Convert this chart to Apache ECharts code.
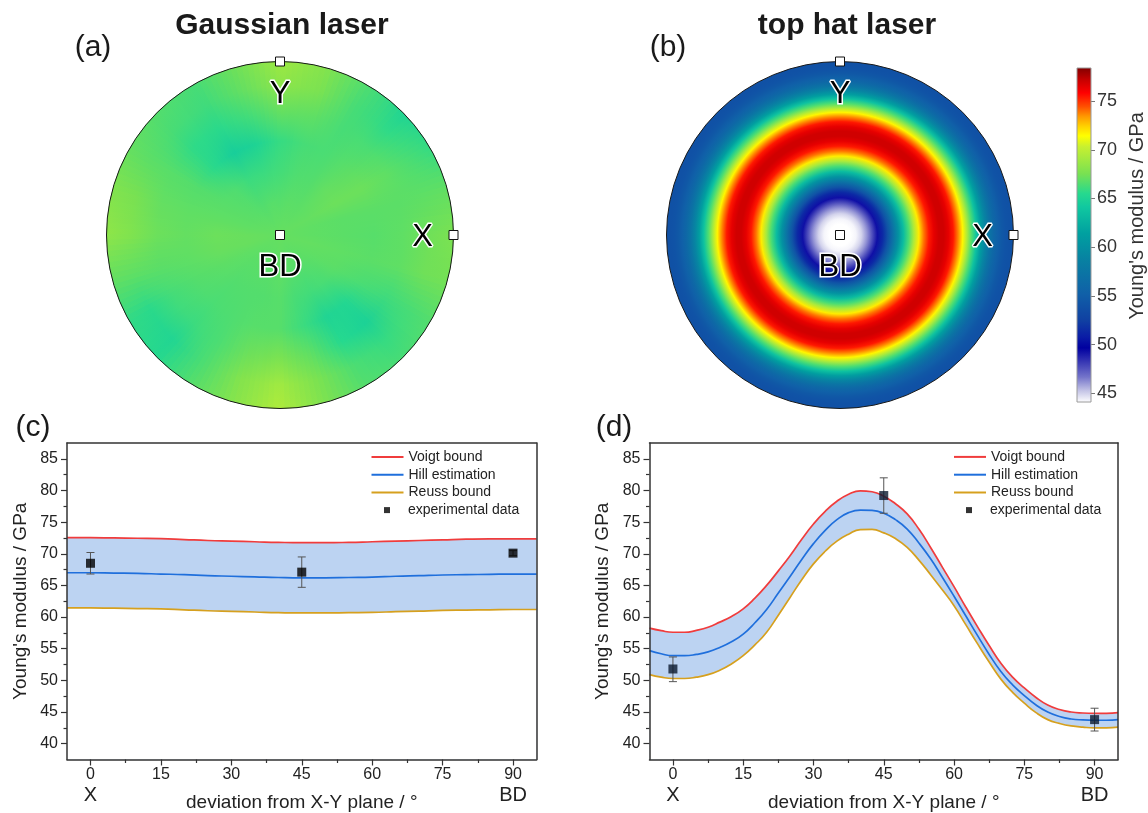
<!DOCTYPE html>
<html>
<head>
<meta charset="utf-8">
<script src="https://cdn.jsdelivr.net/npm/echarts@6/dist/echarts.min.js"></script>
<style>
  html, body { margin: 0; padding: 0; background: #fff; }
  #chart { width: 1148px; height: 813px; }
</style>
</head>
<body>
<div id="chart"></div>
<script>
const FONT = '"Liberation Sans", Arial, Helvetica, sans-serif';

// ---------- (c)/(d): Young's modulus against deviation from the X-Y plane ----------
// Gaussian laser (sampled every 5°)
const gaussDeviation = [-5, 0, 5, 10, 15, 20, 25, 30, 35, 40, 45, 50, 55, 60, 65, 70, 75, 80, 85, 90, 95];
const gaussVoigt = [72.55, 72.55, 72.5, 72.45, 72.4, 72.25, 72.1, 72.0, 71.9, 71.8, 71.75, 71.75, 71.8, 71.9, 72.0, 72.1, 72.2, 72.3, 72.35, 72.35, 72.35];
const gaussHill  = [67.0, 67.0, 66.95, 66.9, 66.8, 66.7, 66.55, 66.45, 66.35, 66.25, 66.2, 66.2, 66.25, 66.3, 66.45, 66.55, 66.65, 66.7, 66.75, 66.8, 66.8];
const gaussReuss = [61.45, 61.45, 61.4, 61.35, 61.3, 61.15, 61.0, 60.9, 60.8, 60.7, 60.65, 60.65, 60.7, 60.75, 60.85, 60.95, 61.05, 61.1, 61.15, 61.2, 61.2];

// top hat laser (sampled every 2.5°)
const topDeviation = [-5, -2.5, 0, 2.5, 5, 7.5, 10, 12.5, 15, 17.5, 20, 22.5, 25, 27.5, 30, 32.5, 35, 37.5, 40, 42.5, 45, 47.5, 50, 52.5, 55, 57.5, 60, 62.5, 65, 67.5, 70, 72.5, 75, 77.5, 80, 82.5, 85, 87.5, 90, 92.5, 95];
const topVoigt = [58.25, 57.85, 57.6, 57.6, 57.9, 58.4, 59.2, 60.1, 61.3, 63.0, 65.0, 67.3, 69.7, 72.3, 74.7, 76.7, 78.3, 79.4, 79.95, 79.8, 79.1, 77.9, 76.3, 73.9, 71.0, 67.9, 64.8, 61.6, 58.5, 55.5, 52.7, 50.5, 48.8, 47.3, 46.1, 45.4, 45.0, 44.85, 44.8, 44.8, 44.9];
const topHill  = [54.7, 54.2, 53.9, 53.9, 54.1, 54.5, 55.2, 56.1, 57.3, 59.1, 61.2, 63.8, 66.4, 69.1, 71.6, 73.7, 75.4, 76.5, 76.9, 76.85, 76.4, 75.4, 73.9, 71.7, 69.2, 66.3, 63.3, 60.2, 57.1, 54.1, 51.4, 49.3, 47.6, 46.1, 45.0, 44.3, 43.9, 43.75, 43.7, 43.7, 43.8];
const topReuss = [50.9, 50.5, 50.3, 50.3, 50.5, 50.9, 51.6, 52.6, 53.9, 55.6, 57.6, 60.3, 63.1, 65.9, 68.4, 70.4, 72.0, 73.1, 73.8, 73.85, 73.3, 72.4, 71.0, 69.0, 66.7, 64.3, 61.8, 58.8, 55.8, 52.9, 50.2, 48.1, 46.4, 44.9, 43.8, 43.2, 42.8, 42.6, 42.5, 42.5, 42.6];

// measured moduli with their error ranges
const expDeviation = [0, 45, 90];
const gaussExp     = [68.5, 67.1, 70.1];
const gaussExpLow  = [66.8, 64.7, 69.7];
const gaussExpHigh = [70.2, 69.5, 70.5];
const topExp       = [51.8, 79.2, 43.8];
const topExpLow    = [49.8, 76.4, 42.0];
const topExpHigh   = [53.7, 82.0, 45.6];

// axis ticks
const xTicks = [0, 15, 30, 45, 60, 75, 90];
const xMinorTicks = [7.5, 22.5, 37.5, 52.5, 67.5, 82.5];
const xEndNames = { 0: 'X', 90: 'BD' };
const yTicks = [40, 45, 50, 55, 60, 65, 70, 75, 80, 85];
const yMinorTicks = [42.5, 47.5, 52.5, 57.5, 62.5, 67.5, 72.5, 77.5, 82.5];
const colorbarTicks = [45, 50, 55, 60, 65, 70, 75];

// ---------- (a)/(b): Young's modulus pole figures (deviation from X-Y plane, azimuth from X) ----------
const gaussDev = [90, 75, 60, 45, 30, 15, 0];
const gaussAzimuth = [0, 15, 30, 45, 60, 75, 90, 105, 120, 135, 150, 165, 180, 195, 210, 225, 240, 255, 270, 285, 300, 315, 330, 345];
const gaussMap = [
  [67.0, 66.9, 66.8, 66.7, 66.9, 67.3, 67.6],
  [67.0, 66.9, 66.8, 66.8, 66.8, 66.9, 67.0],
  [67.0, 67.0, 67.2, 67.2, 66.9, 66.4, 65.9],
  [67.0, 66.9, 67.0, 66.8, 66.4, 65.7, 65.1],
  [67.0, 66.8, 66.6, 66.4, 66.3, 66.3, 66.5],
  [67.0, 66.8, 66.5, 66.3, 66.9, 67.6, 67.9],
  [67.0, 66.7, 66.2, 65.9, 67.0, 68.2, 68.8],
  [67.0, 66.7, 66.0, 65.0, 66.2, 67.0, 67.3],
  [67.0, 66.6, 66.0, 64.6, 65.6, 66.1, 66.3],
  [67.0, 66.7, 66.5, 65.6, 65.7, 66.3, 66.6],
  [67.0, 66.8, 66.7, 66.6, 66.7, 66.8, 67.0],
  [67.0, 66.9, 66.9, 66.9, 67.0, 67.5, 67.8],
  [67.0, 67.1, 67.2, 67.0, 67.2, 67.8, 68.3],
  [67.0, 67.1, 67.1, 66.9, 66.8, 66.9, 67.0],
  [67.0, 66.9, 66.8, 66.6, 66.2, 65.6, 65.8],
  [67.0, 66.8, 66.6, 66.4, 66.0, 65.2, 65.4],
  [67.0, 66.8, 66.6, 66.5, 66.4, 66.5, 66.7],
  [67.0, 66.8, 66.6, 66.7, 67.2, 67.9, 68.0],
  [67.0, 66.9, 66.7, 66.7, 67.6, 68.9, 69.4],
  [67.0, 66.8, 66.3, 66.0, 66.9, 67.6, 67.7],
  [67.0, 66.7, 66.2, 65.1, 65.5, 66.4, 66.6],
  [67.0, 66.8, 66.4, 65.3, 64.8, 65.9, 66.3],
  [67.0, 66.9, 66.8, 66.4, 66.1, 66.3, 66.6],
  [67.0, 67.0, 66.9, 66.8, 66.9, 67.3, 67.4]
];
const topDev = [90, 87.5, 85, 82.5, 80, 77.5, 75, 72.5, 70, 67.5, 65, 62.5, 60, 57.5, 55, 52.5, 50, 47.5, 45, 42.5, 40, 37.5, 35, 32.5, 30, 27.5, 25, 22.5, 20, 17.5, 15, 12.5, 10, 7.5, 5, 2.5, 0];
const topRadial = [43.7, 43.7, 43.9, 44.3, 45.0, 46.1, 47.6, 49.3, 51.4, 54.1, 57.1, 60.2, 63.3, 66.3, 69.2, 71.8, 73.9, 75.4, 76.4, 76.9, 76.9, 76.4, 75.4, 73.7, 71.6, 69.1, 66.4, 63.7, 61.2, 59.0, 57.3, 56.1, 55.2, 54.5, 54.1, 53.95, 53.9];

// reference directions marked on the pole figures: [radius, azimuth]
const poleMarkNames = ['X', 'Y', 'BD'];
const poleMarkRadius = [1, 1, 0];
const poleMarkAzimuth = [0, 90, 0];

// colour scale (GPa)
const cmapValues = [44.1, 45.3, 46.7, 48.4, 49.7, 50.8, 52.5, 55.2, 58.6, 61.4, 64.1, 65.5, 67.5, 70.3, 71.4, 72.4, 73.4, 74.4, 75.8, 77.1, 78.4];
const cmapColors = ['#ffffff', '#c4c4e6', '#7474ca', '#3232b2', '#0000a0', '#0a1ca6', '#1040a2', '#1060a8', '#0880a2', '#00a0a0', '#10c8a0', '#26d98e', '#78e152', '#c8f030', '#ffff00', '#ffd000', '#ff9800', '#ff5000', '#ff0000', '#c80000', '#800000'];

// ---------- styling ----------
const INK = '#222';
const FRAME = '#333';
const colVoigt = '#f03c3c';
const colHill = '#1f6fdc';
const colReuss = '#d6a01e';
const colBand = '#bcd3f2';
const markLabelOffset = { X: [-31, 2], Y: [0, 33], BD: [0, 32] };

const cmin = cmapValues[0], cmax = cmapValues[cmapValues.length - 1];
function colourOf(v) {
  if (v <= cmin) return cmapColors[0];
  if (v >= cmax) return cmapColors[cmapColors.length - 1];
  let i = 0;
  while (cmapValues[i + 1] < v) i++;
  const t = (v - cmapValues[i]) / (cmapValues[i + 1] - cmapValues[i]);
  return echarts.color.lerp(t, [cmapColors[i], cmapColors[i + 1]]);
}
// equal-area (Schmidt) projection of the deviation angle onto the unit disc
const schmidt = dev => Math.sin((90 - dev) * Math.PI / 360) / Math.SQRT1_2;

const pairs = (xs, ys) => xs.map((x, i) => [x, ys[i]]);

// ---------- axes (per plot: bottom, bottom minor ticks, top frame / left, left minor ticks, right frame) ----------
function xAxes(gridIndex) {
  const frame = { lineStyle: { color: FRAME, width: 1.5 }, onZero: false };
  return [
    {
      gridIndex, type: 'value', min: -5, max: 95, position: 'bottom', z: 10,
      axisLine: Object.assign({ show: true }, frame),
      axisTick: { customValues: xTicks, length: 6, lineStyle: { color: FRAME, width: 1.2 } },
      axisLabel: {
        customValues: xTicks, margin: 6, color: INK, fontFamily: FONT,
        formatter: v => xEndNames[v] ? `{n|${v}}\n{s|${xEndNames[v]}}` : `{n|${v}}`,
        rich: {
          n: { fontSize: 16, lineHeight: 19, fontFamily: FONT, color: INK },
          s: { fontSize: 20, lineHeight: 22, fontFamily: FONT, color: INK }
        }
      },
      splitLine: { show: false },
      name: 'deviation from X-Y plane / °', nameLocation: 'middle', nameGap: 34, nameMoveOverlap: false,
      nameTextStyle: { fontSize: 19, color: INK, fontFamily: FONT }
    },
    {
      gridIndex, type: 'value', min: -5, max: 95, position: 'bottom', z: 10,
      axisLine: { show: false, onZero: false },
      axisTick: { customValues: xMinorTicks, length: 3.5, lineStyle: { color: FRAME, width: 1.2 } },
      axisLabel: { show: false }, splitLine: { show: false }
    },
    {
      gridIndex, type: 'value', min: -5, max: 95, position: 'top', z: 10,
      axisLine: Object.assign({ show: true }, frame),
      axisTick: { show: false }, axisLabel: { show: false }, splitLine: { show: false }
    }
  ];
}
function yAxes(gridIndex) {
  const frame = { lineStyle: { color: FRAME, width: 1.5 }, onZero: false };
  return [
    {
      gridIndex, type: 'value', min: 37.5, max: 87.5, position: 'left', z: 10,
      axisLine: Object.assign({ show: true }, frame),
      axisTick: { show: true, customValues: yTicks, length: 6, lineStyle: { color: FRAME, width: 1.2 } },
      axisLabel: { customValues: yTicks, margin: 9, fontSize: 16, color: INK, fontFamily: FONT },
      splitLine: { show: false },
      name: "Young's modulus / GPa", nameLocation: 'middle', nameGap: 37, nameMoveOverlap: false,
      nameTextStyle: { fontSize: 19, color: INK, fontFamily: FONT }
    },
    {
      gridIndex, type: 'value', min: 37.5, max: 87.5, position: 'left', z: 10,
      axisLine: { show: false, onZero: false },
      axisTick: { show: true, customValues: yMinorTicks, length: 3.5, lineStyle: { color: FRAME, width: 1.2 } },
      axisLabel: { show: false }, splitLine: { show: false }
    },
    {
      gridIndex, type: 'value', min: 37.5, max: 87.5, position: 'right', z: 10,
      axisLine: Object.assign({ show: true }, frame),
      axisTick: { show: false }, axisLabel: { show: false }, splitLine: { show: false }
    }
  ];
}

// ---------- series builders ----------
function boundSeries(axisIndex, xs, voigt, hill, reuss) {
  const common = { type: 'line', xAxisIndex: axisIndex, yAxisIndex: axisIndex, smooth: 0.5, symbol: 'none', silent: true, animation: false };
  return [
    // shaded range between the bounds: filled under Voigt, then cleared under Reuss
    Object.assign({}, common, { name: 'band-upper', data: pairs(xs, voigt), lineStyle: { opacity: 0 }, areaStyle: { color: colBand, opacity: 1, origin: 'start' }, z: 1 }),
    Object.assign({}, common, { name: 'band-lower', data: pairs(xs, reuss), lineStyle: { opacity: 0 }, areaStyle: { color: '#ffffff', opacity: 1, origin: 'start' }, z: 1.5 }),
    Object.assign({}, common, { name: 'Voigt bound', data: pairs(xs, voigt), color: colVoigt, lineStyle: { color: colVoigt, width: 1.7 }, z: 3 }),
    Object.assign({}, common, { name: 'Hill estimation', data: pairs(xs, hill), color: colHill, lineStyle: { color: colHill, width: 1.7 }, z: 3 }),
    Object.assign({}, common, { name: 'Reuss bound', data: pairs(xs, reuss), color: colReuss, lineStyle: { color: colReuss, width: 1.7 }, z: 3 })
  ];
}
function errorBars(axisIndex, low, high) {
  return {
    type: 'custom', xAxisIndex: axisIndex, yAxisIndex: axisIndex, silent: true, z: 4, animation: false,
    data: expDeviation.map((d, i) => [d, low[i], high[i]]),
    encode: { x: 0, y: [1, 2] },
    renderItem(params, api) {
      const lo = api.coord([api.value(0), api.value(1)]);
      const hi = api.coord([api.value(0), api.value(2)]);
      const w = 4;
      const st = { stroke: '#555', lineWidth: 1 };
      return {
        type: 'group', children: [
          { type: 'line', shape: { x1: lo[0], y1: lo[1], x2: hi[0], y2: hi[1] }, style: st },
          { type: 'line', shape: { x1: lo[0] - w, y1: lo[1], x2: lo[0] + w, y2: lo[1] }, style: st },
          { type: 'line', shape: { x1: hi[0] - w, y1: hi[1], x2: hi[0] + w, y2: hi[1] }, style: st }
        ]
      };
    }
  };
}
function expSeries(axisIndex, values, colour) {
  return {
    type: 'scatter', name: 'experimental data', xAxisIndex: axisIndex, yAxisIndex: axisIndex,
    data: pairs(expDeviation, values), symbol: 'rect', symbolSize: 9,
    itemStyle: { color: colour }, z: 5, silent: true, animation: false
  };
}

// pole figure sampled on azimuth rows: each row is shaded radially through its profile,
// and the span up to the next row is shaded between the two rows' colours
function wedgeField(polarIndex, azimuths, devs, rows) {
  const n = azimuths.length;
  const step = 360 / n;
  const SUB = 8;
  const span = step / SUB * Math.PI / 180;
  const overlap = 0.006;
  return {
    type: 'custom', coordinateSystem: 'polar', polarIndex, silent: true, z: 1, animation: false,
    data: azimuths.map(az => [1, az]),
    renderItem(params, api) {
      const i = params.dataIndex, j = (i + 1) % n;
      const az = api.value(1);
      const c = api.coord([0, 0]);
      const coloursA = rows[i].map(colourOf);
      const coloursB = rows[j].map(colourOf);
      const children = [];
      for (let s = 0; s < SUB; s++) {
        const rim = api.coord([1, az + step * s / SUB]);
        const R = Math.hypot(rim[0] - c[0], rim[1] - c[1]);
        const a = Math.atan2(rim[1] - c[1], rim[0] - c[0]);
        const t = (s + 0.5) / SUB;
        const stops = devs.map((d, k) => ({ offset: schmidt(d), color: echarts.color.lerp(t, [coloursA[k], coloursB[k]]) }));
        children.push({
          type: 'sector',
          shape: { cx: c[0], cy: c[1], r0: 0, r: R, startAngle: a - span - overlap, endAngle: a + overlap, clockwise: true },
          style: { fill: new echarts.graphic.RadialGradient(c[0], c[1], R, stops, true) }
        });
      }
      return { type: 'group', children };
    }
  };
}
function baseDisc(polarIndex, value) {
  return {
    type: 'custom', coordinateSystem: 'polar', polarIndex, silent: true, z: 0, animation: false,
    data: [[1, 0, value]],
    renderItem(params, api) {
      const c = api.coord([0, 0]);
      const rim = api.coord([api.value(0), api.value(1)]);
      return { type: 'circle', shape: { cx: c[0], cy: c[1], r: Math.hypot(rim[0] - c[0], rim[1] - c[1]) }, style: { fill: colourOf(api.value(2)) } };
    }
  };
}
function radialField(polarIndex, devs, profile) {
  return {
    type: 'custom', coordinateSystem: 'polar', polarIndex, silent: true, z: 1, animation: false,
    data: [[1, 0]],
    renderItem(params, api) {
      const c = api.coord([0, 0]);
      const rim = api.coord([1, 0]);
      const R = Math.hypot(rim[0] - c[0], rim[1] - c[1]);
      const stops = devs.map((d, k) => ({ offset: schmidt(d), color: colourOf(profile[k]) }));
      return {
        type: 'circle', shape: { cx: c[0], cy: c[1], r: R },
        style: { fill: new echarts.graphic.RadialGradient(c[0], c[1], R, stops, true) }
      };
    }
  };
}
function poleOutline(polarIndex) {
  return {
    type: 'custom', coordinateSystem: 'polar', polarIndex, silent: true, z: 2, animation: false,
    data: [[1, 0]],
    renderItem(params, api) {
      const c = api.coord([0, 0]);
      const rim = api.coord([api.value(0), api.value(1)]);
      const R = Math.hypot(rim[0] - c[0], rim[1] - c[1]);
      return { type: 'circle', shape: { cx: c[0], cy: c[1], r: R }, style: { fill: 'none', stroke: '#1a1a1a', lineWidth: 1 } };
    }
  };
}
function poleMarks(polarIndex) {
  return {
    type: 'custom', coordinateSystem: 'polar', polarIndex, silent: true, z: 3, animation: false,
    data: poleMarkNames.map((n, i) => [poleMarkRadius[i], poleMarkAzimuth[i]]),
    renderItem(params, api) {
      const p = api.coord([api.value(0), api.value(1)]);
      const name = poleMarkNames[params.dataIndex];
      const off = markLabelOffset[name];
      return {
        type: 'group', children: [
          { type: 'rect', shape: { x: p[0] - 4.5, y: p[1] - 4.5, width: 9, height: 9 }, style: { fill: '#fff', stroke: '#111', lineWidth: 1 } },
          {
            type: 'text', x: p[0] + off[0], y: p[1] + off[1],
            style: { text: name, font: `31px ${FONT}`, fill: '#000', align: 'center', verticalAlign: 'middle', stroke: '#fff', lineWidth: 3 }
          }
        ]
      };
    }
  };
}
function colourbar(axisIndex) {
  return {
    type: 'custom', xAxisIndex: axisIndex, yAxisIndex: axisIndex, silent: true, z: 2, animation: false,
    data: [[0, cmin, 1, cmax]],
    renderItem(params, api) {
      const bl = api.coord([api.value(0), api.value(1)]);
      const tr = api.coord([api.value(2), api.value(3)]);
      const stops = cmapValues.map((v, i) => ({ offset: (v - cmin) / (cmax - cmin), color: cmapColors[i] }));
      return {
        type: 'rect',
        shape: { x: bl[0], y: tr[1], width: tr[0] - bl[0], height: bl[1] - tr[1] },
        style: { fill: new echarts.graphic.LinearGradient(0, 1, 0, 0, stops), stroke: '#9a9a9a', lineWidth: 1 }
      };
    }
  };
}

const legendText = { fontSize: 14, lineHeight: 17.8, color: INK, fontFamily: FONT };
function legends(lineLeft, squareLeft) {
  return [
    {
      data: ['Voigt bound', 'Hill estimation', 'Reuss bound'], orient: 'vertical', left: lineLeft, top: 448,
      padding: 0, itemGap: 0, itemWidth: 32, itemHeight: 2, icon: 'rect', selectedMode: false, textStyle: legendText
    },
    {
      data: [{ name: 'experimental data', itemStyle: { color: '#000' } }], orient: 'vertical', left: squareLeft, top: 501.2,
      padding: 0, itemWidth: 6, itemHeight: 6, icon: 'rect', selectedMode: false,
      textStyle: Object.assign({ padding: [0, 0, 0, 13] }, legendText)
    }
  ];
}

const chart = echarts.init(document.getElementById('chart'), null, { renderer: 'canvas', width: 1148, height: 813 });

const plotGrid = { outerBoundsMode: 'none', containLabel: false, show: false };
chart.setOption({
  animation: false,
  backgroundColor: '#fff',
  textStyle: { fontFamily: FONT },
  grid: [
    Object.assign({ left: 67, top: 443, width: 469.5, height: 316.5 }, plotGrid),
    Object.assign({ left: 649.5, top: 443, width: 468.5, height: 316.5 }, plotGrid),
    Object.assign({ left: 1077, top: 68, width: 14, height: 334 }, plotGrid)
  ],
  xAxis: [
    ...xAxes(0), ...xAxes(1),
    { gridIndex: 2, type: 'value', min: 0, max: 1, show: false }
  ],
  yAxis: [
    ...yAxes(0), ...yAxes(1),
    {
      gridIndex: 2, type: 'value', min: cmin, max: cmax, position: 'right',
      axisLine: { show: false, onZero: false },
      axisTick: { show: true, customValues: colorbarTicks, length: 4, lineStyle: { color: '#777' } },
      axisLabel: { customValues: colorbarTicks, margin: 6, fontSize: 18, color: '#333', fontFamily: FONT },
      splitLine: { show: false }
    }
  ],
  polar: [
    { center: [280, 235], radius: 173.5 },
    { center: [840, 235], radius: 173.5 }
  ],
  angleAxis: [
    { polarIndex: 0, type: 'value', min: 0, max: 360, startAngle: 0, clockwise: false, show: false },
    { polarIndex: 1, type: 'value', min: 0, max: 360, startAngle: 0, clockwise: false, show: false }
  ],
  radiusAxis: [
    { polarIndex: 0, type: 'value', min: 0, max: 1, show: false },
    { polarIndex: 1, type: 'value', min: 0, max: 1, show: false }
  ],
  legend: [...legends(371.5, 384), ...legends(954, 966)],
  graphic: [
    { type: 'text', x: 282, y: 26, style: { text: 'Gaussian laser', font: `bold 30px ${FONT}`, fill: '#1a1a1a', align: 'center', verticalAlign: 'middle' } },
    { type: 'text', x: 847, y: 26, style: { text: 'top hat laser', font: `bold 30px ${FONT}`, fill: '#1a1a1a', align: 'center', verticalAlign: 'middle' } },
    { type: 'text', x: 93, y: 48, style: { text: '(a)', font: `30px ${FONT}`, fill: '#1a1a1a', align: 'center', verticalAlign: 'middle' } },
    { type: 'text', x: 668, y: 48, style: { text: '(b)', font: `30px ${FONT}`, fill: '#1a1a1a', align: 'center', verticalAlign: 'middle' } },
    { type: 'text', x: 33, y: 428, style: { text: '(c)', font: `30px ${FONT}`, fill: '#1a1a1a', align: 'center', verticalAlign: 'middle' } },
    { type: 'text', x: 614, y: 428, style: { text: '(d)', font: `30px ${FONT}`, fill: '#1a1a1a', align: 'center', verticalAlign: 'middle' } },
    { type: 'text', x: 1137, y: 216, rotation: Math.PI / 2, style: { text: "Young's modulus / GPa", font: `20px ${FONT}`, fill: '#333', align: 'center', verticalAlign: 'middle' } }
  ],
  series: [
    baseDisc(0, gaussMap[0][0]),
    wedgeField(0, gaussAzimuth, gaussDev, gaussMap),
    poleOutline(0),
    poleMarks(0),
    radialField(1, topDev, topRadial),
    poleOutline(1),
    poleMarks(1),
    colourbar(6),
    ...boundSeries(0, gaussDeviation, gaussVoigt, gaussHill, gaussReuss),
    errorBars(0, gaussExpLow, gaussExpHigh),
    expSeries(0, gaussExp, '#000'),
    ...boundSeries(3, topDeviation, topVoigt, topHill, topReuss),
    errorBars(3, topExpLow, topExpHigh),
    expSeries(3, topExp, '#0b1a30')
  ]
});
</script>
</body>
</html>
